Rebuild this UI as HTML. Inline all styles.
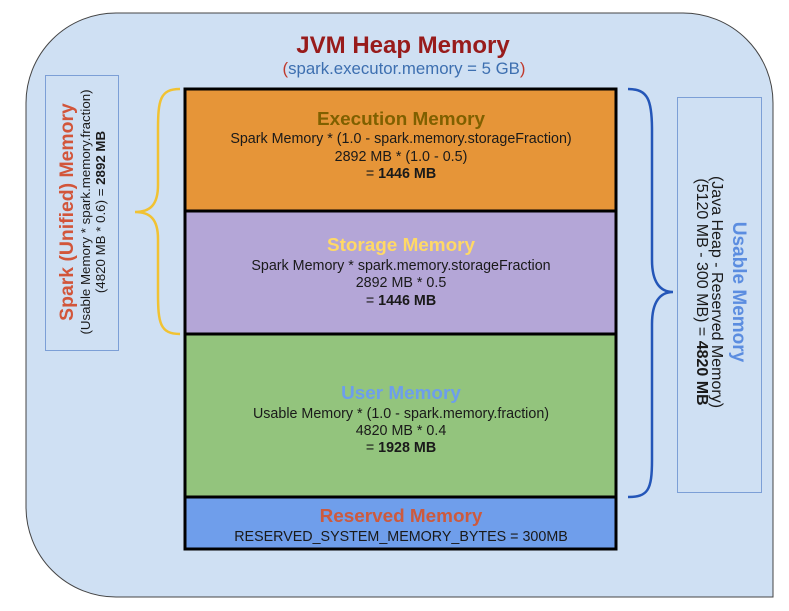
<!DOCTYPE html>
<html><head><meta charset="utf-8"><style>
html,body{margin:0;padding:0;background:#fff;}
svg{display:block;font-family:"Liberation Sans",Arial,sans-serif;}
</style></head><body>
<svg width="789" height="611" viewBox="0 0 789 611" xmlns="http://www.w3.org/2000/svg">
<path d="M116,13 H683 A90,90 0 0 1 773,103 V597 H116 A90,90 0 0 1 26,507 V103 A90,90 0 0 1 116,13 Z" fill="#cfe0f3" stroke="#444" stroke-width="1"/>
<text x="403" y="53" text-anchor="middle" font-size="24" font-weight="bold" fill="#981b1b">JVM Heap Memory</text>
<text x="404" y="74" text-anchor="middle" font-size="16.8" fill="#3d6fb0"><tspan fill="#c0392b">(</tspan>spark.executor.memory = 5 GB<tspan fill="#c0392b">)</tspan></text>

<rect x="45.5" y="75.5" width="73" height="275" fill="none" stroke="#7c9fd6" stroke-width="1"/>
<rect x="677.5" y="97.5" width="84" height="395" fill="none" stroke="#7c9fd6" stroke-width="1"/>

<rect x="185" y="89" width="431" height="122" fill="#e69538" stroke="#000" stroke-width="3"/>
<rect x="185" y="211" width="431" height="123" fill="#b4a6d7" stroke="#000" stroke-width="3"/>
<rect x="185" y="334" width="431" height="163" fill="#93c47d" stroke="#000" stroke-width="3"/>
<rect x="185" y="497" width="431" height="52" fill="#6f9eeb" stroke="#000" stroke-width="3"/>

<g text-anchor="middle" font-size="14.3" fill="#1a1a1a">
<text x="401" y="125" font-size="18.9" font-weight="bold" fill="#7f6000">Execution Memory</text>
<text x="401" y="143">Spark Memory * (1.0 - spark.memory.storageFraction)</text>
<text x="401" y="161">2892 MB * (1.0 - 0.5)</text>
<text x="401" y="178">= <tspan font-weight="bold">1446 MB</tspan></text>

<text x="401" y="251" font-size="18.9" font-weight="bold" fill="#ffd966">Storage Memory</text>
<text x="401" y="270">Spark Memory * spark.memory.storageFraction</text>
<text x="401" y="287">2892 MB * 0.5</text>
<text x="401" y="305">= <tspan font-weight="bold">1446 MB</tspan></text>

<text x="401" y="399" font-size="18.9" font-weight="bold" fill="#6d9eeb">User Memory</text>
<text x="401" y="418">Usable Memory * (1.0 - spark.memory.fraction)</text>
<text x="401" y="435">4820 MB * 0.4</text>
<text x="401" y="452">= <tspan font-weight="bold">1928 MB</tspan></text>

<text x="401" y="522" font-size="18.9" font-weight="bold" fill="#cc5a3e">Reserved Memory</text>
<text x="401" y="541">RESERVED_SYSTEM_MEMORY_BYTES = 300MB</text>
</g>

<path d="M180,89 C160,89 158,100 158,130 V185 C158,205 150,212 135,212 C150,212 158,219 158,239 V293 C158,323 160,334 180,334" fill="none" stroke="#f1c232" stroke-width="2.5"/>
<path d="M628,89 C648,89 652,100 652,130 V260 C652,282 660,292 673,292 C660,292 652,302 652,324 V460 C652,490 648,497 628,497" fill="none" stroke="#2456b8" stroke-width="2.5"/>

<g transform="translate(73,212) rotate(-90)" text-anchor="middle">
<text x="0" y="0" font-size="19.4" font-weight="bold" fill="#d2553a">Spark (Unified) Memory</text>
<text x="0" y="17" font-size="13.3" fill="#1a1a1a">(Usable Memory * spark.memory.fraction)</text>
<text x="0" y="32" font-size="13.3" fill="#1a1a1a">(4820 MB * 0.6) = <tspan font-weight="bold">2892 MB</tspan></text>
</g>
<g transform="translate(733,292) rotate(90)" text-anchor="middle">
<text x="0" y="0" font-size="19" font-weight="bold" fill="#5b8de0">Usable Memory</text>
<text x="0" y="21" font-size="16" fill="#1a1a1a">(Java Heap - Reserved Memory)</text>
<text x="0" y="36" font-size="16" fill="#1a1a1a">(5120 MB - 300 MB) = <tspan font-weight="bold">4820 MB</tspan></text>
</g>
</svg>
</body></html>
